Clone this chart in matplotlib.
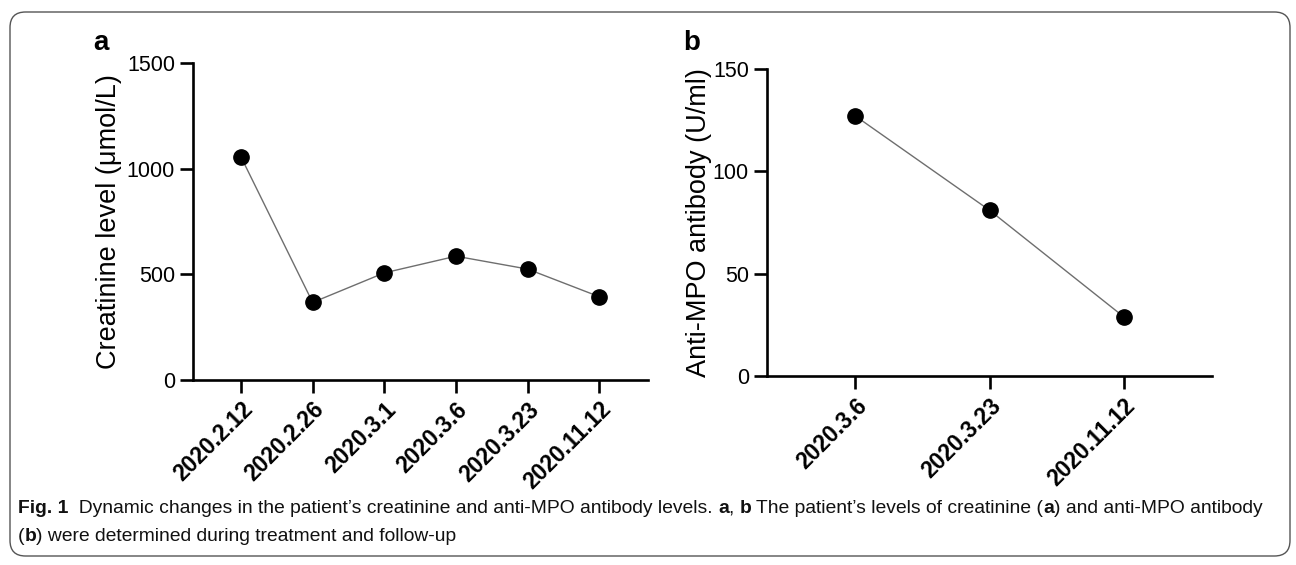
import matplotlib
matplotlib.use("Agg")
import matplotlib.pyplot as plt
from matplotlib import font_manager as fm
from matplotlib.patches import FancyBboxPatch

# ---- data ----
dates_a = ["2020.2.12", "2020.2.26", "2020.3.1", "2020.3.6", "2020.3.23", "2020.11.12"]
creatinine = [1055, 366, 506, 585, 524, 393]
yticks_a = [0, 500, 1000, 1500]

dates_b = ["2020.3.6", "2020.3.23", "2020.11.12"]
anti_mpo = [127, 81, 29]
yticks_b = [0, 50, 100, 150]

ylabel_a = "Creatinine level (μmol/L)"
ylabel_b = "Anti-MPO antibody (U/ml)"

MAIN = "Liberation Sans"
CAP = "Liberation Sans"

plt.rcParams["font.family"] = [MAIN, "DejaVu Sans"]

W, H = 1296, 565
fig = plt.figure(figsize=(W / 100, H / 100), dpi=100)
fig.patch.set_facecolor("white")

def ax_rect(l, r, t, b):
    return [l / W, 1 - b / H, (r - l) / W, (b - t) / H]

def style(ax, labels, yticks, ylim, xlim, ylabel):
    x = list(range(len(labels)))
    ax.set_xlim(*xlim)
    ax.set_ylim(*ylim)
    ax.set_xticks(x)
    ax.set_xticklabels(labels, rotation=45, ha="right", rotation_mode="anchor",
                       fontsize=16.5, fontweight="bold")
    ax.set_yticks(yticks)
    ax.set_yticklabels([str(v) for v in yticks], fontsize=15.5)
    for s in ["top", "right"]:
        ax.spines[s].set_visible(False)
    for s in ["left", "bottom"]:
        ax.spines[s].set_linewidth(1.9)
    ax.tick_params(axis="both", width=1.9, length=9.5, direction="out", pad=3.5)
    ax.set_ylabel(ylabel, fontsize=19.5)
    ax.set_facecolor("none")
    return x

ax1 = fig.add_axes(ax_rect(193, 648, 63, 379.7))
x1 = style(ax1, dates_a, yticks_a, (0, 1500), (-0.67, 5.68), ylabel_a)
ax1.plot(x1, creatinine, color="#6e6e6e", lw=1.0, marker="o", ms=11,
         mfc="black", mec="black", clip_on=False, zorder=3)
ax1.yaxis.set_label_coords(-0.156, 0.5)

ax2 = fig.add_axes(ax_rect(767, 1212, 69, 376))
x2 = style(ax2, dates_b, yticks_b, (0, 150), (-0.66, 2.66), ylabel_b)
ax2.plot(x2, anti_mpo, color="#6e6e6e", lw=1.0, marker="o", ms=11,
         mfc="black", mec="black", clip_on=False, zorder=3)
ax2.yaxis.set_label_coords(-0.124, 0.5)

fig.text(93 / W, 1 - 50 / H, "a", fontsize=20, fontweight="bold", ha="left", va="baseline")
fig.text(683 / W, 1 - 50 / H, "b", fontsize=20, fontweight="bold", ha="left", va="baseline")

# rounded border
box = FancyBboxPatch((10 / W, 1 - 556 / H), (1290 - 10) / W, (556 - 12) / H,
                     boxstyle="round,pad=0,rounding_size=0.012",
                     transform=fig.transFigure, fill=False, ec="#555555", lw=1.0,
                     mutation_aspect=W / H)
fig.add_artist(box)

# caption with mixed weight
line1 = [("Fig. 1", "bold"), ("  Dynamic changes in the patient\u2019s creatinine and anti-MPO antibody levels. ", "normal"),
         ("a", "bold"), (", ", "normal"), ("b", "bold"),
         (" The patient\u2019s levels of creatinine (", "normal"), ("a", "bold"),
         (") and anti-MPO antibody", "normal")]
line2 = [("(", "normal"), ("b", "bold"), (") were determined during treatment and follow-up", "normal")]

renderer = fig.canvas.get_renderer()

def draw_line(parts, x0, ybase, size):
    x = x0
    arts = []
    for txt, wt in parts:
        t = fig.text(x / W, 1 - ybase / H, txt, fontsize=size, fontweight=wt,
                     family=[CAP, "DejaVu Sans"], ha="left", va="baseline", color="#111111")
        bb = t.get_window_extent(renderer=renderer)
        x = x + bb.width
        arts.append(t)
    return x, arts

size = 13
end, arts = draw_line(line1, 18, 513, size)
width = end - 18
for a in arts:
    a.remove()
size = size * 1244 / width
draw_line(line1, 18, 513, size)
draw_line(line2, 18, 541, size)

fig.savefig("out.png", dpi=100, facecolor="white")
